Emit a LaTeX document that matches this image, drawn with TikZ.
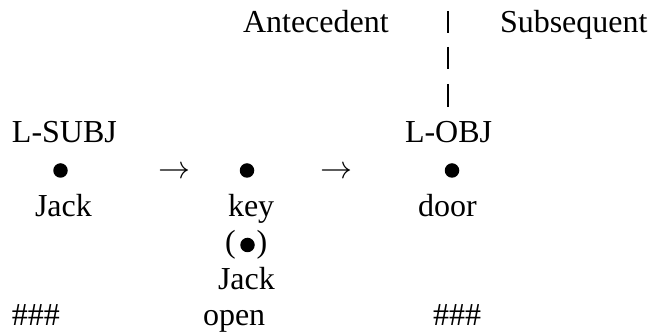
\RequirePackage{fix-cm}
\documentclass[tikz,border=0pt]{standalone}
\usepackage{fontspec}
\setmainfont{Liberation Serif}
\begin{document}
\begin{tikzpicture}[x=1pt,y=-1pt,
  lbl/.style={font=\fontsize{32}{38}\selectfont, inner sep=0pt, outer sep=0pt, anchor=base west},
  dot/.style={circle, fill=black, inner sep=0pt, minimum size=14.5pt},
  bar/.style={line width=2.2pt, black}]
\useasboundingbox (0,0) rectangle (651,336);
% header
\node[lbl] (ante) at (243,33) {Antecedent};
\node[lbl] (subs) at (500,33) {Subsequent};
\coordinate (b1t) at (448,11); \coordinate (b1b) at (448,33);
\coordinate (b2t) at (448,47); \coordinate (b2b) at (448,69);
\coordinate (b3t) at (448,84); \coordinate (b3b) at (448,107);
\draw[bar] (b1t) -- (b1b);
\draw[bar] (b2t) -- (b2b);
\draw[bar] (b3t) -- (b3b);
% roles
\node[lbl] (lsubj) at (12,143) {L-SUBJ};
\node[lbl] (lobj) at (405,143) {L-OBJ};
% dots and arrows
\node[dot] (d1) at (60.5,170.5) {};
\node[dot] (d2) at (247,170.5) {};
\node[dot] (d3) at (452,170.5) {};
\node[lbl] (a1) at (158,179) {$\rightarrow$};
\node[lbl] (a2) at (320,179) {$\rightarrow$};
% words
\node[lbl] (jack) at (35,216.5) {Jack};
\node[lbl] (key) at (228,216.5) {key};
\node[lbl] (door) at (418,216.5) {door};
\node[lbl] (paren) at (225,253) {(\hspace{21pt})};
\node[dot] (d4) at (247.5,245) {};
\node[lbl] (jack2) at (218,289.5) {Jack};
\node[lbl] (h1) at (12,326) {\#\#\#};
\node[lbl] (open) at (203,326) {open};
\node[lbl] (h2) at (433,326) {\#\#\#};
\end{tikzpicture}
\end{document}
